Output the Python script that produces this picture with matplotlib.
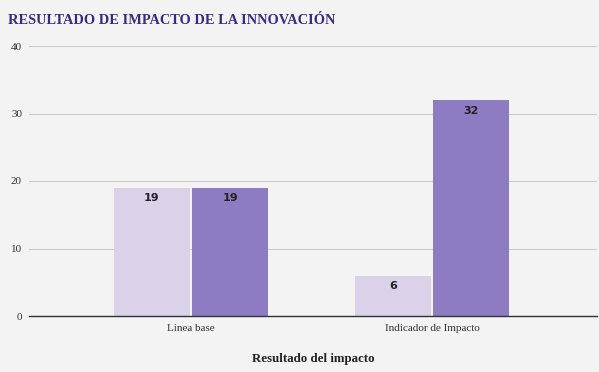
import numpy as np
import matplotlib.pyplot as plt

categories = ["Linea base", "Indicador de Impacto"]
serie_a = [19, 6]
serie_b = [19, 32]
y_ticks = [0, 10, 20, 30, 40]

plt.rcParams["font.family"] = ["Liberation Serif", "DejaVu Serif"]

fig = plt.figure(figsize=(5.99, 3.72), dpi=100, facecolor="#f3f3f3")
ax = fig.add_axes([29 / 599, 1 - 316 / 372, 568 / 599, 270 / 372])
ax.set_facecolor("#f3f3f3")

x = np.arange(len(categories))
w = 0.315
gap = 0.005
bars_a = ax.bar(x - w / 2 - gap, serie_a, w, color="#d9d2e9", zorder=3)
bars_b = ax.bar(x + w / 2 + gap, serie_b, w, color="#8e7cc3", zorder=3)

for bars in (bars_a, bars_b):
    for b in bars:
        ax.annotate(f"{b.get_height():g}", (b.get_x() + b.get_width() / 2, b.get_height()),
                    xytext=(0, -4), textcoords="offset points", ha="center", va="top",
                    fontsize=8, fontweight="bold", family=["DejaVu Sans"], color="#222222", zorder=4)

ax.set_ylim(0, 40)
ax.set_yticks(y_ticks)
ax.set_xlim(-0.672, 1.685)
ax.set_xticks(x)
ax.set_xticklabels(categories)
ax.grid(axis="y", color="#cccccc", linewidth=0.8, zorder=0)
for s in ["top", "right", "left"]:
    ax.spines[s].set_visible(False)
ax.spines["bottom"].set_color("#333333")
ax.spines["bottom"].set_linewidth(1.0)
ax.spines["bottom"].set_zorder(5)
ax.tick_params(axis="both", length=0, labelsize=8, colors="#333333")
ax.tick_params(axis="y", pad=5)
ax.tick_params(axis="x", pad=6)

ax.set_xlabel("Resultado del impacto", fontsize=9.3, fontweight="bold", color="#222222", labelpad=14)
fig.text(8 / 599, 1 - 21 / 372, "RESULTADO DE IMPACTO DE LA INNOVACIÓN", fontsize=10.4,
         fontweight="bold", color="#3c2a7c", va="center", ha="left")

fig.savefig("out.png", dpi=100, facecolor=fig.get_facecolor())
